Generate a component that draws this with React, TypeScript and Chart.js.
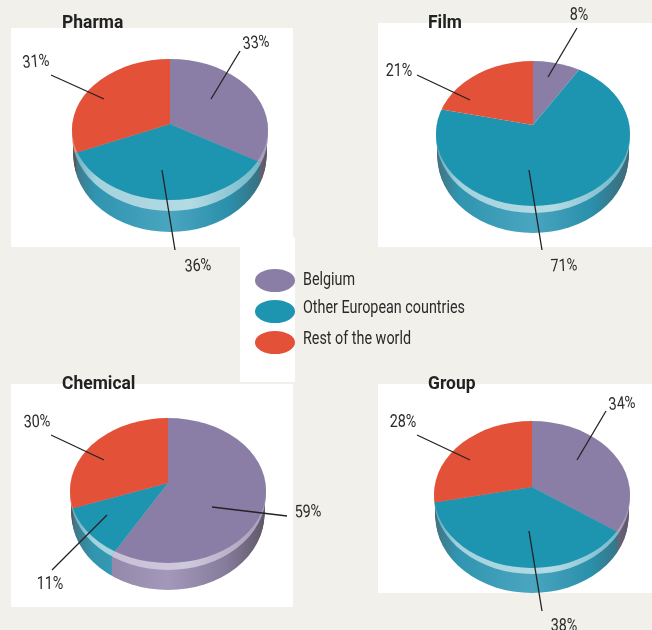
import React, { useEffect, useRef } from "react";
import { Chart, registerables, ArcElement } from "chart.js";

Chart.register(...registerables);

// Shares, in percent, listed as Belgium / other European countries / rest of the world
const seriesNames = ["Belgium", "Other European countries", "Rest of the world"];
const pharmaShares = [33, 36, 31];
const filmShares = [8, 71, 21];
const chemicalShares = [59, 11, 30];
const groupShares = [34, 38, 28];

const sliceColors = ["#8a7ea6", "#1d94b0", "#e35138"];
const rimColors = [
  ["#8d84a0", "#c6bfd6", "#cfc9dc", "#a79db9"],
  ["#5fa9bc", "#a3d2dd", "#b4dbe4", "#6cb4c6"],
  ["#e08a7a", "#f0b0a4", "#f0b0a4", "#e08a7a"],
];
const wallColors = [
  ["#6d6578", "#8e84a6", "#a398ba", "#857b9a", "#5e5766"],
  ["#46707f", "#3095b0", "#4aa5c0", "#2a90ab", "#3e6876"],
  ["#4a5a62", "#c84a34", "#dc5a44", "#c84a34", "#8f3a2a"],
];

const FONT = "Roboto, sans-serif";
const TEXT_SQUEEZE = 0.82;
const TITLE_SQUEEZE = 0.97;
const BG = "#f1f0ea";
const W = 652;
const H = 630;
const RAY_REACH = 1.3;

type Callout = { from: number[]; to: number[]; at: number[]; tilt: number };
type PieSpec = {
  title: string;
  titleAt: number[];
  shares: number[];
  cx: number;
  cy: number;
  r: number;
  topRy: number;
  faceRy: number;
  rimRy: number;
  depth: number;
  callouts: Callout[];
};

const pies: PieSpec[] = [
  {
    title: "Pharma", titleAt: [62, 12], shares: pharmaShares,
    cx: 170, cy: 124, r: 98, topRy: 65, faceRy: 76, rimRy: 87, depth: 21,
    callouts: [
      { from: [211, 99], to: [240, 51], at: [256, 42], tilt: -6 },
      { from: [162, 170], to: [175, 250], at: [198, 265], tilt: -4 },
      { from: [104, 99], to: [51, 75], at: [36, 61], tilt: -5 },
    ],
  },
  {
    title: "Film", titleAt: [428, 12], shares: filmShares,
    cx: 533, cy: 125, r: 97, topRy: 64, faceRy: 81, rimRy: 88, depth: 20,
    callouts: [
      { from: [548, 77], to: [577, 28], at: [579, 14], tilt: 0 },
      { from: [529, 170], to: [542, 250], at: [564, 265], tilt: -3 },
      { from: [470, 100], to: [417, 75], at: [399, 70], tilt: 0 },
    ],
  },
  {
    title: "Chemical", titleAt: [62, 373], shares: chemicalShares,
    cx: 168, cy: 483, r: 98, topRy: 65, faceRy: 80, rimRy: 87, depth: 20,
    callouts: [
      { from: [212, 507], to: [287, 516], at: [308, 511], tilt: -3 },
      { from: [107, 515], to: [52, 570], at: [50, 583], tilt: 0 },
      { from: [104, 460], to: [51, 435], at: [37, 421], tilt: -3 },
    ],
  },
  {
    title: "Group", titleAt: [428, 373], shares: groupShares,
    cx: 532, cy: 487, r: 98, topRy: 66, faceRy: 81, rimRy: 87, depth: 19,
    callouts: [
      { from: [577, 460], to: [606, 411], at: [622, 403], tilt: -5 },
      { from: [529, 531], to: [542, 611], at: [564, 625], tilt: 0 },
      { from: [470, 460], to: [417, 435], at: [403, 421], tilt: 0 },
    ],
  },
];

const panels = [
  [11, 28, 282, 219],
  [378, 23, 274, 224],
  [11, 384, 282, 223],
  [378, 384, 274, 209],
  [240, 237, 55, 145],
];

const legendSwatchY = [269, 300, 331];
const legendTextY = [279, 307, 338];

function horizontalFill(ctx: CanvasRenderingContext2D, spec: PieSpec, stops: string[]) {
  const g = ctx.createLinearGradient(spec.cx - spec.r, 0, spec.cx + spec.r, 0);
  const at = stops.length === 5 ? [0, 0.12, 0.5, 0.8, 1] : [0, 0.12, 0.6, 1];
  stops.forEach((c, i) => g.addColorStop(at[i], c));
  return g;
}

// The visible outline is a true ellipse running from the top edge to `bottomRy` below the apex
function clipOutline(
  ctx: CanvasRenderingContext2D,
  spec: PieSpec,
  bottomRy: number,
  drop: number,
  xScale: number,
) {
  const top = spec.cy - spec.topRy;
  const bottom = spec.cy + bottomRy;
  ctx.beginPath();
  ctx.ellipse(spec.cx, (top + bottom) / 2 + drop, spec.r * xScale, (bottom - top) / 2, 0, 0, Math.PI * 2);
  ctx.clip();
}

// Paints the part of each wedge lying below the apex, inside a dropped copy of the outline
function fillLowerWedges(
  ctx: CanvasRenderingContext2D,
  arcs: ArcElement[],
  spec: PieSpec,
  bottomRy: number,
  drop: number,
  xScale: number,
  fills: CanvasGradient[],
) {
  ctx.save();
  clipOutline(ctx, spec, bottomRy, drop, xScale);
  ctx.beginPath();
  ctx.rect(0, spec.cy + drop, W, H);
  ctx.clip();
  arcs.forEach((arc, i) => {
    const { x, y, outerRadius, startAngle, endAngle } = arc as any;
    const sx = RAY_REACH;
    const sy = (RAY_REACH * spec.faceRy) / outerRadius;
    ctx.beginPath();
    ctx.moveTo(x, y + drop);
    ctx.ellipse(x, y + drop, outerRadius * sx, outerRadius * sy, 0, startAngle, endAngle);
    ctx.closePath();
    ctx.fillStyle = fills[i];
    ctx.fill();
  });
  ctx.restore();
}

function tiltedDiscPlugin(spec: PieSpec) {
  return {
    id: "tiltedDisc",
    // The disc replaces the flat pie: wall, light rim, then the two halves of the face
    beforeDatasetsDraw(chart: Chart) {
      const ctx = chart.ctx;
      const arcs = chart.getDatasetMeta(0).data as unknown as ArcElement[];

      const wallFills = wallColors.map((c) => horizontalFill(ctx, spec, c));
      for (let d = spec.depth; d >= 0; d--) {
        fillLowerWedges(ctx, arcs, spec, spec.rimRy, d, 0.985, wallFills);
      }
      const rimFills = rimColors.map((c) => horizontalFill(ctx, spec, c));
      fillLowerWedges(ctx, arcs, spec, spec.rimRy, 0, 1, rimFills);

      const half = (top: number, height: number, ry: number) => {
        ctx.save();
        clipOutline(ctx, spec, spec.faceRy, 0, 1);
        ctx.beginPath();
        ctx.rect(0, top, W, height);
        ctx.clip();
        ctx.translate(spec.cx, spec.cy);
        ctx.scale(RAY_REACH, (RAY_REACH * ry) / spec.r);
        ctx.translate(-spec.cx, -spec.cy);
        arcs.forEach((arc) => arc.draw(ctx));
        ctx.restore();
      };
      half(0, spec.cy + 0.5, spec.topRy);
      half(spec.cy, H - spec.cy, spec.faceRy);
      return false;
    },
    afterDraw(chart: Chart) {
      const ctx = chart.ctx;
      ctx.save();
      ctx.strokeStyle = "#232323";
      ctx.lineWidth = 1.3;
      spec.callouts.forEach((c) => {
        ctx.beginPath();
        ctx.moveTo(c.from[0], c.from[1]);
        ctx.lineTo(c.to[0], c.to[1]);
        ctx.stroke();
      });
      ctx.fillStyle = "#2a2a2a";
      ctx.font = `17.5px ${FONT}`;
      ctx.textAlign = "center";
      ctx.textBaseline = "middle";
      spec.callouts.forEach((c, i) => {
        ctx.save();
        ctx.translate(c.at[0], c.at[1] + 1.5);
        ctx.rotate((c.tilt * Math.PI) / 180);
        ctx.scale(TEXT_SQUEEZE, 1);
        ctx.fillText(`${spec.shares[i]}%`, 0, 0);
        ctx.restore();
      });
      ctx.restore();
    },
  };
}

function TiltedPie({ spec }: { spec: PieSpec }) {
  const ref = useRef<HTMLCanvasElement>(null);
  useEffect(() => {
    const chart = new Chart(ref.current!, {
      type: "pie",
      data: {
        labels: seriesNames,
        datasets: [{ data: spec.shares, backgroundColor: sliceColors, borderWidth: 0 }],
      },
      options: {
        animation: false,
        responsive: false,
        devicePixelRatio: 1,
        events: [],
        layout: {
          padding: {
            left: spec.cx - spec.r,
            right: W - spec.cx - spec.r,
            top: spec.cy - spec.r,
            bottom: H - spec.cy - spec.r,
          },
        },
        plugins: { legend: { display: false }, tooltip: { enabled: false } },
      },
      plugins: [tiltedDiscPlugin(spec)],
    });
    return () => chart.destroy();
  }, [spec]);
  return (
    <canvas
      ref={ref}
      width={W}
      height={H}
      style={{ position: "absolute", left: 0, top: 0, width: W, height: H }}
    />
  );
}

export default function App() {
  return (
    <div
      style={{
        position: "fixed",
        left: 0,
        top: 0,
        width: W,
        height: H,
        overflow: "hidden",
        background: BG,
        fontFamily: FONT,
        color: "#2a2a2a",
      }}
    >
      {panels.map(([x, y, w, h], i) => (
        <div key={i} style={{ position: "absolute", left: x, top: y, width: w, height: h, background: "#fff" }} />
      ))}
      {pies.map((p) => (
        <TiltedPie key={p.title} spec={p} />
      ))}
      {pies.map((p) => (
        <div
          key={p.title}
          style={{
            position: "absolute",
            left: p.titleAt[0],
            top: p.titleAt[1],
            fontWeight: 700,
            fontSize: 18,
            lineHeight: "20px",
            color: "#222",
            transform: `scaleX(${TITLE_SQUEEZE})`,
            transformOrigin: "left center",
          }}
        >
          {p.title}
        </div>
      ))}
      {seriesNames.map((name, i) => (
        <React.Fragment key={name}>
          <div
            style={{
              position: "absolute",
              left: 255,
              top: legendSwatchY[i],
              width: 40,
              height: 23,
              borderRadius: "50%",
              background: sliceColors[i],
            }}
          />
          <div
            style={{
              position: "absolute",
              left: 303,
              top: legendTextY[i] - 10,
              fontSize: 17.5,
              lineHeight: "20px",
              whiteSpace: "nowrap",
              transform: `scaleX(${TEXT_SQUEEZE})`,
              transformOrigin: "left center",
            }}
          >
            {name}
          </div>
        </React.Fragment>
      ))}
    </div>
  );
}
